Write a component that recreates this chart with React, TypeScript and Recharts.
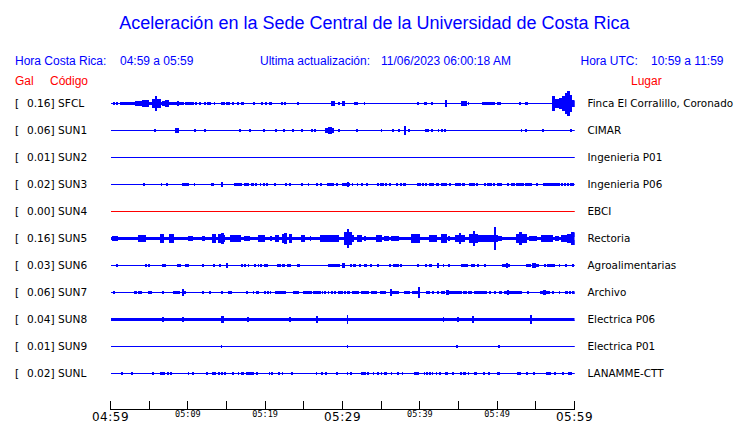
import React from 'react';
import { ComposedChart, Area, XAxis, YAxis } from 'recharts';

const stations = ['SFCL', 'SUN1', 'SUN2', 'SUN3', 'SUN4', 'SUN5', 'SUN6', 'SUN7', 'SUN8', 'SUN9', 'SUNL'];
const galValues = ['0.16', '0.06', '0.01', '0.02', '0.00', '0.16', '0.03', '0.06', '0.04', '0.01', '0.02'];
const places = ['Finca El Corralillo, Coronado', 'CIMAR', 'Ingenieria P01', 'Ingenieria P06', 'EBCI', 'Rectoria', 'Agroalimentarias', 'Archivo', 'Electrica P06', 'Electrica P01', 'LANAMME-CTT'];
const traceColors = ['#0000ff', '#0000ff', '#0000ff', '#0000ff', '#ff0000', '#0000ff', '#0000ff', '#0000ff', '#0000ff', '#0000ff', '#0000ff'];
const noiseFloor = [0, 0, 0, 0, 0, 1.1, 0, 0, 1, 0, 0];

const minuteTicks = [0, 5, 10, 15, 20, 25, 30, 35, 40, 45, 50, 55, 60];
const tickLabels = ['04:59', '', '05:09', '', '05:19', '', '05:29', '', '05:39', '', '05:49', '', '05:59'];
const bigTicks = ['04:59', '05:29', '05:59'];

// [start minute, end minute, half amplitude]
const sfcl = [
  [0.4, 0.5, 1], [0.75, 0.85, 1], [1.3, 2.15, 1], [2.35, 3.2, 1], [3.2, 3.65, 2], [3.65, 4.2, 2], [4.2, 4.95, 3],
  [4.95, 5.4, 1], [5.4, 5.8, 4], [5.8, 5.95, 7], [5.95, 6.5, 4], [6.5, 6.7, 1], [6.7, 7.1, 2], [7.1, 7.5, 3],
  [7.5, 7.7, 1], [7.95, 8.6, 1], [8.6, 8.75, 2], [8.75, 9.45, 1], [9.7, 10.75, 1], [11, 11.1, 1], [11.5, 11.6, 1],
  [12.2, 12.3, 1], [12.6, 12.9, 1], [13.4, 13.5, 1], [14.4, 14.75, 1], [14.95, 15.4, 1], [15.8, 15.9, 1],
  [16.4, 16.5, 1], [17, 17.15, 1], [18.5, 18.6, 1], [19.5, 19.65, 1], [20, 20.2, 1], [20.5, 20.8, 1],
  [22.1, 22.2, 1], [22.55, 22.65, 1], [24.2, 24.3, 1], [28.6, 28.95, 2], [29.45, 29.55, 1], [29.95, 30.3, 2],
  [31.6, 32, 1], [32.8, 32.9, 1], [39.75, 39.85, 1], [40.6, 40.8, 1], [41.5, 41.65, 1], [43.3, 43.4, 3],
  [45.35, 46, 2], [46.25, 46.35, 1], [48.15, 49.25, 1], [49.45, 49.7, 1], [50.1, 50.45, 1], [52.9, 53, 1],
  [53.6, 53.9, 1], [57.2, 57.35, 7], [57.35, 58.05, 4], [58.05, 58.5, 5], [58.5, 58.9, 7], [58.9, 59.1, 10],
  [59.1, 59.3, 12], [59.3, 59.55, 8], [59.55, 60, 3],
];
const sun1 = [
  [5.7, 5.8, 1], [8.4, 8.8, 2], [10.85, 10.95, 1], [12.15, 12.25, 1], [16.65, 16.75, 1], [17.95, 18.05, 1],
  [19.75, 19.95, 1], [21.4, 21.5, 1], [22.35, 22.45, 1], [23.5, 23.6, 1], [24.7, 24.8, 1], [26.05, 26.15, 1],
  [26.4, 26.5, 1], [27.85, 28.2, 2], [28.2, 28.6, 3], [28.6, 28.8, 2], [29.45, 29.55, 1], [31.85, 31.95, 1],
  [35, 35.1, 1], [36.5, 36.6, 1], [37.3, 37.4, 1], [38.05, 38.15, 4], [38.55, 38.65, 1], [40.7, 40.8, 1],
  [41, 41.1, 1], [41.5, 41.6, 1], [42.35, 42.45, 1], [42.85, 42.95, 1], [43.2, 43.3, 1], [53.1, 53.2, 1],
  [53.6, 53.8, 1], [55.9, 56, 1], [59.45, 59.55, 1],
];
const sun2: number[][] = [];
const sun3 = [
  [4.25, 4.35, 1], [6.55, 6.65, 1], [7.3, 7.4, 1], [9.25, 9.6, 1], [9.75, 10.1, 1], [10.8, 10.9, 1], [13, 13.35, 1],
  [14.35, 14.5, 2], [16.05, 17, 1], [17.3, 17.85, 1], [18.2, 18.5, 1], [18.75, 18.85, 1], [19.35, 19.45, 1],
  [19.75, 19.85, 1], [20.2, 20.3, 1], [21.25, 21.35, 1], [22.65, 22.8, 1], [23.1, 23.25, 1], [24.7, 24.8, 1],
  [25.55, 25.65, 1], [26.65, 26.75, 1], [27.1, 27.25, 1], [28.05, 28.8, 1], [29.2, 29.3, 1], [30.05, 30.6, 1],
  [30.6, 30.75, 2], [30.75, 30.95, 1], [31.25, 31.35, 1], [31.9, 32, 1], [32.4, 32.6, 1], [33.15, 33.25, 1],
  [34.5, 34.7, 1], [34.9, 35.3, 1], [35.6, 35.75, 1], [36.1, 36.2, 1], [36.95, 37.05, 1], [37.5, 37.6, 1],
  [37.95, 38.1, 1], [39.7, 40.1, 1], [40.3, 40.45, 1], [40.75, 40.85, 1], [41.2, 41.8, 1], [42.1, 42.4, 1],
  [42.85, 43.5, 1], [43.8, 43.95, 1], [44.55, 44.7, 1], [44.9, 45.2, 1], [45.5, 45.75, 1], [46.45, 47.1, 1],
  [47.3, 47.4, 1], [48.3, 48.45, 1], [48.75, 49.3, 1], [49.55, 49.65, 1], [50.1, 50.25, 1], [50.45, 50.55, 1],
  [51.4, 51.5, 1], [51.8, 52.3, 1], [52.55, 53, 1], [53.2, 53.45, 1], [53.65, 54.5, 1], [55.15, 55.25, 1],
  [55.95, 56.2, 1], [56.4, 58.05, 1], [58.35, 58.5, 1], [58.75, 58.85, 1], [59.1, 59.2, 1], [59.45, 59.55, 1],
  [59.75, 59.85, 1],
];
const sun4: number[][] = [];
const sun5 = [
  [0.2, 0.85, 2], [3.65, 4.5, 3], [6.45, 6.9, 4], [7.65, 8.15, 4], [10.1, 10.55, 2], [11.9, 12.1, 2],
  [13.2, 13.55, 4], [14, 14.3, 4], [14.3, 14.6, 5], [14.6, 14.75, 3], [15.5, 16.8, 3], [17.35, 17.95, 2],
  [19.15, 19.9, 3], [20.65, 20.8, 2], [21.35, 21.7, 3], [22.2, 22.5, 4], [22.5, 22.8, 5], [23.2, 23.45, 4],
  [24.7, 25.15, 3], [25.8, 25.9, 2], [27.1, 29.5, 3], [30.3, 30.6, 6], [30.6, 30.75, 9], [30.75, 31.2, 6],
  [31.2, 31.4, 3], [32, 32.45, 3], [32.85, 32.95, 2], [34.4, 35.05, 3], [35.45, 35.9, 2], [36.3, 37.2, 2],
  [38.9, 40, 4], [41.25, 42.15, 3], [42.75, 43.45, 4], [43.65, 43.9, 2], [44.65, 45.1, 3], [45.1, 45.3, 5],
  [45.3, 45.75, 3], [46.45, 46.9, 4], [46.9, 47.05, 7], [47.05, 47.4, 4], [47.5, 49.35, 3], [49.35, 49.6, 3],
  [49.6, 49.75, 11], [49.75, 50.1, 3], [50.1, 50.55, 2], [52.55, 52.95, 4], [52.95, 53.1, 6], [53.1, 53.8, 4],
  [54.2, 55.05, 2], [55.7, 57.2, 3], [57.6, 57.95, 2], [58.3, 59.1, 3], [59.1, 59.6, 4], [59.6, 60, 6],
];
const sun6 = [
  [0.8, 0.95, 1], [4.5, 4.6, 1], [4.9, 5, 1], [6.75, 7.05, 1], [8.6, 9.05, 1], [9.65, 10.1, 1], [11.9, 12, 1],
  [13.3, 13.4, 1], [14.15, 14.25, 1], [15, 15.1, 2], [16.95, 17.05, 1], [17.35, 17.45, 1], [17.8, 17.9, 1],
  [18.6, 18.7, 1], [19.1, 19.2, 1], [19.45, 19.55, 1], [19.9, 20.25, 1], [21.6, 22, 1], [22.3, 22.45, 1],
  [22.9, 23.25, 1], [24.2, 24.5, 1], [28.2, 29.55, 1], [30.05, 30.3, 2], [31.05, 31.15, 1], [31.45, 31.65, 1],
  [32.2, 32.35, 1], [32.85, 33.05, 1], [33.6, 33.8, 1], [34.55, 34.65, 1], [36.1, 36.2, 1], [36.55, 37.3, 1],
  [37.55, 37.65, 1], [39.75, 39.85, 1], [40.7, 40.85, 1], [41.2, 41.45, 1], [42.25, 42.45, 2], [43, 43.1, 1],
  [43.7, 43.9, 1], [45.35, 46.2, 1], [46.65, 47.1, 1], [47.45, 47.6, 1], [48.35, 48.45, 1], [50.75, 51.2, 1],
  [51.2, 51.35, 2], [51.35, 51.55, 1], [53.75, 54.3, 1], [54.6, 54.9, 2], [55, 55.3, 1], [56.1, 56.25, 1],
  [56.5, 57.45, 1], [58, 58.1, 1], [58.9, 59, 1], [59.75, 59.9, 1],
];
const sun7 = [
  [0.4, 0.5, 1], [3.1, 3.35, 1], [3.6, 3.95, 1], [4.85, 5.25, 1], [6.7, 6.85, 1], [8.15, 8.6, 1], [8.75, 8.9, 1],
  [9.3, 9.4, 3], [9.4, 9.65, 1], [11.9, 12, 1], [12.8, 12.9, 1], [14.4, 14.5, 1], [15.25, 15.7, 1],
  [17.6, 17.7, 1], [18.45, 18.55, 1], [18.9, 19.2, 1], [19.9, 20, 1], [20.3, 20.4, 1], [20.65, 20.75, 1],
  [21.35, 22.6, 1], [23.7, 24.3, 1], [25, 25.45, 1], [25.65, 26.05, 1], [26.25, 27.1, 1], [27.35, 27.45, 1],
  [27.7, 27.8, 1], [28.15, 28.25, 1], [28.55, 28.65, 1], [28.95, 29.05, 1], [29.45, 30, 1], [30.25, 30.35, 1],
  [30.65, 30.95, 1], [31.25, 31.4, 1], [31.6, 31.85, 1], [32, 32.1, 1], [32.45, 33.35, 1], [33.8, 34.4, 1],
  [34.85, 35.5, 1], [36.2, 36.3, 3], [36.4, 36.7, 1], [36.9, 37.2, 1], [38.05, 38.7, 1], [39.1, 39.8, 1],
  [39.85, 39.95, 5], [40.85, 41.3, 1], [41.7, 41.8, 1], [42.25, 42.35, 1], [42.8, 43.25, 1], [43.45, 43.7, 2],
  [43.7, 44.95, 1], [45.15, 45.4, 1], [45.6, 46, 1], [46.25, 46.7, 1], [47.1, 48.6, 1], [49.05, 49.15, 1],
  [49.7, 49.8, 1], [50.25, 50.55, 1], [50.95, 51.3, 1], [51.3, 51.5, 2], [51.5, 53.1, 1], [53.95, 54.05, 1],
  [55.65, 56.05, 1], [56.05, 56.2, 2], [56.2, 56.75, 1], [57.15, 57.25, 1], [58, 58.1, 1], [58.8, 59.1, 1],
  [59.4, 59.5, 1], [59.7, 60, 1],
];
const sun8 = [
  [6.7, 6.8, 2], [9.3, 9.4, 2], [14.35, 14.55, 3], [17.75, 17.85, 2], [23.2, 23.3, 2], [26.7, 26.8, 3],
  [30.6, 30.7, 4], [43, 43.1, 2], [44.85, 44.95, 2], [46.85, 47, 3], [54.35, 54.45, 4],
];
const sun9 = [[14.3, 14.4, 1], [30.6, 30.7, 1], [44.8, 44.9, 1], [50.2, 50.3, 1]];
const sunl = [
  [1.4, 1.5, 1], [2.75, 2.85, 1], [5.4, 5.5, 1], [6.45, 7, 1], [7.35, 7.45, 1], [7.75, 7.85, 1], [10.05, 10.15, 1],
  [10.55, 10.7, 1], [12.4, 12.5, 1], [13.2, 13.55, 1], [13.95, 14.05, 1], [14.4, 14.5, 1], [14.8, 14.9, 1],
  [15.75, 15.85, 1], [16.5, 16.6, 1], [16.95, 17.2, 1], [17.6, 18.5, 1], [18.9, 19, 1], [20.5, 20.6, 1],
  [20.8, 20.9, 1], [21.7, 21.8, 1], [22.2, 22.3, 1], [23.4, 23.5, 1], [26.6, 26.7, 1], [27.25, 27.35, 1],
  [27.8, 27.9, 1], [29.2, 29.3, 1], [30.6, 30.7, 1], [31, 31.1, 1], [32.4, 33, 1], [33.2, 33.3, 1],
  [33.95, 34.05, 1], [34.5, 34.7, 1], [35, 35.1, 1], [35.45, 35.7, 1], [36.3, 36.4, 1], [37.15, 37.25, 1],
  [37.7, 37.8, 1], [39.25, 39.8, 1], [40.55, 40.65, 1], [40.9, 41, 1], [41.25, 41.35, 1], [41.6, 41.7, 1],
  [42.1, 42.2, 1], [42.55, 42.65, 1], [43.3, 43.6, 1], [44.25, 44.35, 1], [45.25, 45.35, 1], [45.6, 45.9, 1],
  [46.25, 46.35, 1], [47.1, 47.3, 1], [48.25, 48.35, 1], [48.9, 49, 1], [50, 50.3, 1], [52.65, 53, 1],
  [53.85, 53.95, 1], [54.7, 54.8, 1], [56.35, 56.9, 1], [57.4, 57.5, 1], [58.45, 58.55, 1], [59.25, 59.6, 1],
];
const segmentsByStation = [sfcl, sun1, sun2, sun3, sun4, sun5, sun6, sun7, sun8, sun9, sunl];

const ROW_GAP = 27;
const TOP_ROW = 306;
const rowBase = stations.map((_, i) => TOP_ROW - ROW_GAP * i);

function buildTrace(segs: number[][], floor: number, base: number) {
  const pts: { t: number; v: number[] }[] = [{ t: 0, v: [base - floor, base + floor] }];
  segs.forEach(([t0, t1, a]) => {
    const h = Math.max(a, floor);
    pts.push({ t: t0, v: [base - h, base + h] });
    pts.push({ t: t1, v: [base - floor, base + floor] });
  });
  pts.push({ t: 60, v: [base - floor, base + floor] });
  return pts;
}

const traces = stations.map((_, i) => buildTrace(segmentsByStation[i], noiseFloor[i], rowBase[i]));

const LeftTick = (props: any) => {
  const { y, payload } = props;
  const i = rowBase.indexOf(payload.value);
  if (i < 0) return null;
  return (
    <g>
      <text x={15} y={y + 3.5} fontSize={10.6} fontFamily="DejaVu Sans" fill="#000">[</text>
      <text x={27} y={y + 3.5} fontSize={10.6} fontFamily="DejaVu Sans" fill="#000">{`${galValues[i]}] ${stations[i]}`}</text>
    </g>
  );
};

const RightTick = (props: any) => {
  const { x, y, payload } = props;
  const i = rowBase.indexOf(payload.value);
  if (i < 0) return null;
  return (
    <text x={x + 13} y={y + 3.5} fontSize={10.4} fontFamily="DejaVu Sans" fill="#000">{places[i]}</text>
  );
};

const TimeTick = (props: any) => {
  const { x, y, payload } = props;
  const i = minuteTicks.indexOf(payload.value);
  const label = i >= 0 ? tickLabels[i] : '';
  const big = bigTicks.includes(label);
  return (
    <g>
      <line x1={x} y1={y} x2={x} y2={y - 9} stroke="#000" strokeWidth={1} />
      {label !== '' && (
        big ? (
          <text x={x} y={y + 11} textAnchor="middle" fontSize={12} letterSpacing={0.5} fontFamily="DejaVu Sans" fill="#000">{label}</text>
        ) : (
          <text x={x} y={y + 7.5} textAnchor="middle" fontSize={8.5} fontFamily="DejaVu Sans Mono" fill="#000">{label}</text>
        )
      )}
    </g>
  );
};

const headerFont = { fontFamily: '"Liberation Sans", Arial, sans-serif' };

export default function App() {
  return (
    <div style={{ position: 'absolute', left: 0, top: 0, width: 740, height: 423, background: '#fff', shapeRendering: 'crispEdges' } as any}>
      <ComposedChart width={740} height={423} margin={{ top: 85.5, right: 0, bottom: 0, left: 0 }}>
        <XAxis
          dataKey="t"
          type="number"
          domain={[0, 60]}
          ticks={minuteTicks}
          interval={0}
          height={13.5}
          tickSize={0}
          tickMargin={0}
          tickLine={false}
          axisLine={{ stroke: '#000', strokeWidth: 1 }}
          tick={<TimeTick />}
          allowDataOverflow
        />
        <YAxis
          type="number"
          domain={[0, 324]}
          ticks={rowBase}
          interval={0}
          width={110.5}
          tickSize={0}
          tickMargin={0}
          axisLine={false}
          tickLine={false}
          tick={<LeftTick />}
          allowDataOverflow
        />
        <YAxis
          yAxisId="r"
          orientation="right"
          type="number"
          domain={[0, 324]}
          ticks={rowBase}
          interval={0}
          width={165.5}
          tickSize={0}
          tickMargin={0}
          axisLine={false}
          tickLine={false}
          tick={<RightTick />}
          allowDataOverflow
        />
        {traces.map((tr, i) => (
          <Area
            key={stations[i]}
            data={tr}
            dataKey="v"
            type="stepAfter"
            stroke={traceColors[i]}
            strokeWidth={1}
            fill={traceColors[i]}
            fillOpacity={1}
            dot={false}
            activeDot={false}
            isAnimationActive={false}
          />
        ))}
      </ComposedChart>
      <svg width={740} height={423} style={{ position: 'absolute', left: 0, top: 0, pointerEvents: 'none' }}>
        <text x={374.5} y={29} textAnchor="middle" fontSize={18} fill="#0000ff" {...headerFont}>Aceleración en la Sede Central de la Universidad de Costa Rica</text>
        <text x={15} y={65} fontSize={12} fill="#0000ff" {...headerFont}>Hora Costa Rica:</text>
        <text x={120} y={65} fontSize={12} fill="#0000ff" {...headerFont}>04:59 a 05:59</text>
        <text x={260} y={65} fontSize={12} fill="#0000ff" {...headerFont}>Ultima actualización:</text>
        <text x={381} y={65} fontSize={12} fill="#0000ff" {...headerFont}>11/06/2023 06:00:18 AM</text>
        <text x={580.5} y={65} fontSize={12} fill="#0000ff" {...headerFont}>Hora UTC:</text>
        <text x={651} y={65} fontSize={12} fill="#0000ff" {...headerFont}>10:59 a 11:59</text>
        <text x={15} y={85} fontSize={12} fill="#ff0000" {...headerFont}>Gal</text>
        <text x={50} y={85} fontSize={12} fill="#ff0000" {...headerFont}>Código</text>
        <text x={631} y={85} fontSize={12} fill="#ff0000" {...headerFont}>Lugar</text>
      </svg>
    </div>
  );
}
